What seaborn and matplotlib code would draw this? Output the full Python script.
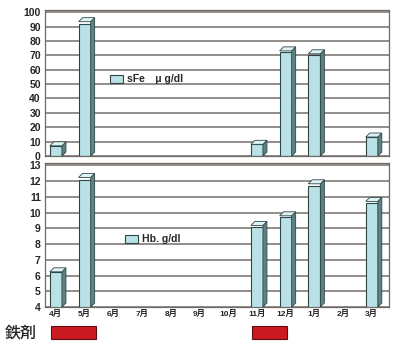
import numpy as np
import pandas as pd
import matplotlib
matplotlib.use("Agg")
import matplotlib.pyplot as plt
import seaborn as sns
from matplotlib.patches import Polygon, Rectangle
from matplotlib.transforms import IdentityTransform

months = ["4月", "5月", "6月", "7月", "8月", "9月", "10月", "11月", "12月", "1月", "2月", "3月"]
sfe = [7, 92, np.nan, np.nan, np.nan, np.nan, np.nan, 8, 72, 70, np.nan, 13]
hb = [6.2, 12.1, np.nan, np.nan, np.nan, np.nan, np.nan, 9.1, 9.7, 11.7, np.nan, 10.6]
sfe_label = "sFe　μ g/dl"
hb_label = "Hb. g/dl"
iron_label = "鉄剤"
iron_periods = [("4月", "5月"), ("11月", "12月")]

sns.set_theme(style="white")
plt.rcParams["font.family"] = ["Liberation Sans", "Noto Sans CJK JP", "DejaVu Sans"]

W, H = 400, 349
fig = plt.figure(figsize=(W / 100, H / 100), dpi=100)

def ax_at(x0, y0, x1, y1):
    return fig.add_axes([x0 / W, 1 - y1 / H, (x1 - x0) / W, (y1 - y0) / H])

face = "#b9e1e6"
side = "#5e8283"
top = "#dff3f4"
edge = "#2f4646"
grid_c = "#776f69"

def draw_panel(ax, vals, ylim, yticks, label, show_x):
    df = pd.DataFrame({"month": months, "value": vals})
    sns.barplot(data=df, x="month", y="value", ax=ax, color=face, width=0.42,
                edgecolor=edge, linewidth=0.8, saturation=1, label=label, order=months)
    ax.set_xlim(-0.38, 11.6)
    ax.set_ylim(*ylim)
    ax.set_yticks(yticks)
    ax.set_yticklabels([str(t) for t in yticks], fontsize=7.5, fontweight="bold")
    ax.yaxis.grid(True, color=grid_c, linewidth=1.1)
    ax.set_axisbelow(True)
    ax.set_xlabel("")
    ax.set_ylabel("")
    ax.tick_params(axis="y", length=0, pad=3)
    for s in ax.spines.values():
        s.set_color("#6f6a66")
        s.set_linewidth(0.9)
    if show_x:
        ax.set_xticks(range(len(months)))
        ax.set_xticklabels(months, fontsize=6, fontweight="bold")
        ax.tick_params(axis="x", length=0, pad=2)
    else:
        ax.set_xticks([])
    fig.canvas.draw()
    d = 4
    for p in ax.patches:
        h = p.get_height()
        if not np.isfinite(h) or h == 0:
            continue
        x0, y0 = p.get_x(), ylim[0]
        w = p.get_width()
        y1 = p.get_y() + h
        (ax0, ay0) = ax.transData.transform((x0, y0))
        (ax1, ay1) = ax.transData.transform((x0 + w, y1))
        sidep = Polygon([(ax1, ay0), (ax1, ay1), (ax1 + d, ay1 + d), (ax1 + d, ay0 + d)],
                        closed=True, facecolor=side, edgecolor=edge, linewidth=0.6,
                        transform=IdentityTransform(), clip_on=False, zorder=3)
        topp = Polygon([(ax0, ay1), (ax1, ay1), (ax1 + d, ay1 + d), (ax0 + d, ay1 + d)],
                       closed=True, facecolor=top, edgecolor=edge, linewidth=0.6,
                       transform=IdentityTransform(), clip_on=False, zorder=3)
        fig.add_artist(sidep)
        fig.add_artist(topp)
    return ax

ax1 = ax_at(45, 10, 389, 156)
draw_panel(ax1, sfe, (0, 100), list(range(0, 101, 10)), sfe_label, False)
ax1.set_ylim(0, 101.5)
leg1 = ax1.legend(loc="upper left", bbox_to_anchor=(105 / W, 1 - 69 / H),
                  bbox_transform=fig.transFigure, frameon=False,
                  prop={"size": 7.5, "weight": "bold"},
                  handlelength=1.2, handleheight=0.8, handletextpad=0.4, borderpad=0)

ax2 = ax_at(45, 163, 389, 307)
draw_panel(ax2, hb, (4, 13), list(range(4, 14)), hb_label, True)
ax2.set_ylim(4, 13.15)
leg2 = ax2.legend(loc="upper left", bbox_to_anchor=(120 / W, 1 - 229 / H),
                  bbox_transform=fig.transFigure, frameon=False,
                  prop={"size": 7.5, "weight": "bold"},
                  handlelength=1.2, handleheight=0.8, handletextpad=0.4, borderpad=0)

fig.text(5 / W, 1 - 333 / H, iron_label, fontsize=11.5, va="center", ha="left",
         family=["Noto Sans CJK JP", "DejaVu Sans"], fontweight="medium")
xpix = {m: ax2.transData.transform((i, 0))[0] for i, m in enumerate(months)}
for a, b in iron_periods:
    xa = xpix[a] - 5
    xb = xpix[b] + 11 if b == "5月" else xpix[b] + 1
    fig.add_artist(Rectangle((xa / W, 1 - 339 / H), (xb - xa) / W, 13.5 / H,
                             transform=fig.transFigure, facecolor="#cc1a22",
                             edgecolor="#5a1010", linewidth=0.8))

fig.savefig("out.png", dpi=100)
